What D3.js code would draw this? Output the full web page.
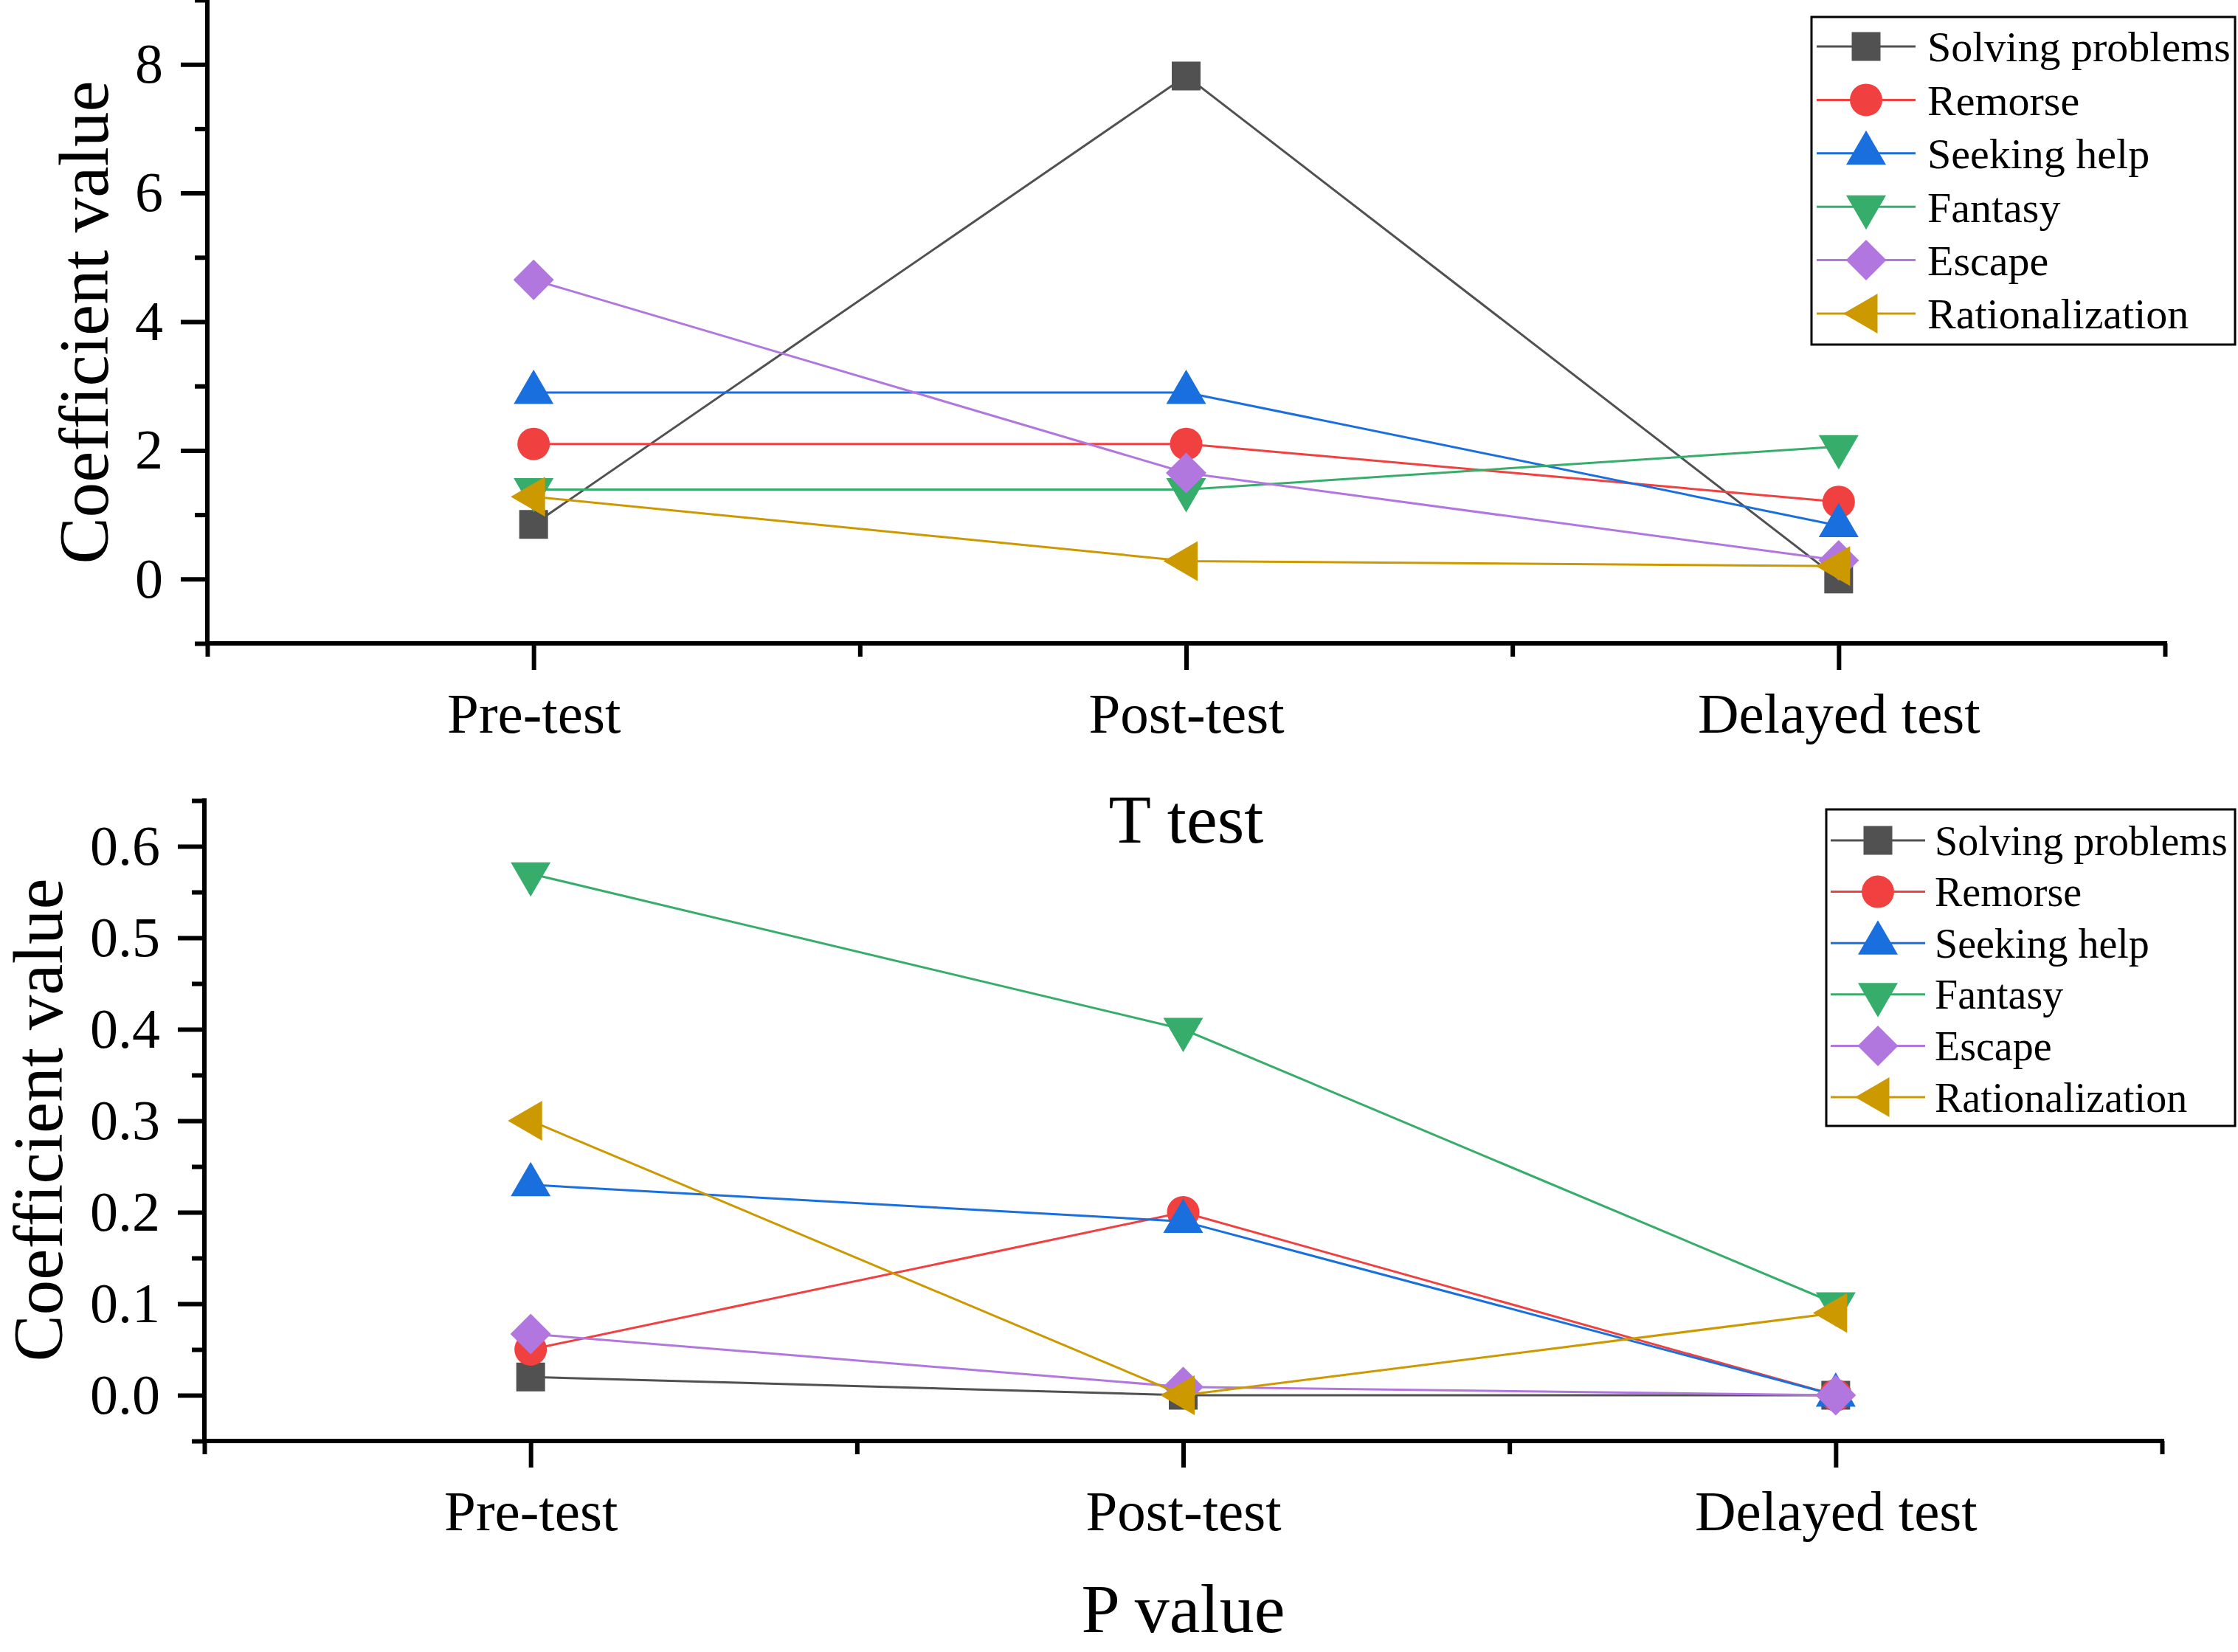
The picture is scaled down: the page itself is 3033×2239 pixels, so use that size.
<!DOCTYPE html>
<html>
<head>
<meta charset="utf-8">
<script src="https://cdn.jsdelivr.net/npm/d3@7"></script>
<style>
  body { margin: 0; background: #fff; }
  svg text { font-family: "Liberation Serif", "Times New Roman", serif; fill: #000; }
</style>
</head>
<body>
<svg id="chart" width="3033" height="2239"></svg>
<script>
// categories on the x axis
const categories = ["Pre-test", "Post-test", "Delayed test"]
const seriesNames = ["Solving problems", "Remorse", "Seeking help", "Fantasy", "Escape", "Rationalization"]

// T test coefficients
const solvingT = [0.85, 7.82, 0.0]
const remorseT = [2.1, 2.1, 1.2]
const seekingT = [2.9, 2.9, 0.83]
const fantasyT = [1.39, 1.39, 2.06]
const escapeT = [4.65, 1.65, 0.29]
const rationalT = [1.28, 0.28, 0.2]

// P values
const solvingP = [0.02, 0.0, 0.0]
const remorseP = [0.05, 0.2, 0.0]
const seekingP = [0.23, 0.19, 0.0]
const fantasyP = [0.57, 0.4, 0.1]
const escapeP = [0.067, 0.009, 0.0]
const rationalP = [0.3, 0.0, 0.09]

// tick labels
const tTicks = [0, 2, 4, 6, 8]
const tMinor = [-1, 1, 3, 5, 7, 9]
const pTicks = [0, 0.1, 0.2, 0.3, 0.4, 0.5, 0.6]
const pMinor = [-0.05, 0.05, 0.15, 0.25, 0.35, 0.45, 0.55, 0.65]

const colors = ["#515151", "#F14040", "#1A6FDF", "#37AD6B", "#B177DE", "#CC9900"]
const shapes = ["square", "circle", "up", "down", "diamond", "left"]

const svg = d3.select("#chart")

function markerPath(shape) {
  const p = d3.path()
  if (shape === "square") {
    p.rect(-19.5, -19.5, 39, 39)
  } else if (shape === "circle") {
    p.arc(0, 0, 22, 0, 2 * Math.PI)
  } else if (shape === "up") {
    p.moveTo(0, -31); p.lineTo(27, 15.5); p.lineTo(-27, 15.5); p.closePath()
  } else if (shape === "down") {
    p.moveTo(0, 31); p.lineTo(27, -15.5); p.lineTo(-27, -15.5); p.closePath()
  } else if (shape === "diamond") {
    p.moveTo(0, -27.5); p.lineTo(27.5, 0); p.lineTo(0, 27.5); p.lineTo(-27.5, 0); p.closePath()
  } else if (shape === "left") {
    p.moveTo(-31, 0); p.lineTo(15.5, -27); p.lineTo(15.5, 27); p.closePath()
  }
  return p.toString()
}

function renderPanel(opts) {
  const x = d3.scaleLinear().domain([0.5, 3.5]).range([opts.left, opts.right])
  const y = d3.scaleLinear().domain(opts.yDomain).range([opts.bottom, opts.top])
  const g = svg.append("g")

  // y axis major ticks + labels
  const yAxis = g.append("g")
    .attr("transform", `translate(${opts.left},0)`)
    .call(d3.axisLeft(y).tickValues(opts.major).tickSize(36).tickSizeOuter(0)
      .tickPadding(24).tickFormat(opts.fmt))
  yAxis.select(".domain").remove()
  yAxis.selectAll("line").attr("stroke", "#000").attr("stroke-width", 6)
  yAxis.selectAll("text").style("font-size", "76px")

  // y minor ticks
  const yMinor = g.append("g")
    .attr("transform", `translate(${opts.left},0)`)
    .call(d3.axisLeft(y).tickValues(opts.minor).tickSize(17).tickFormat(""))
  yMinor.select(".domain").remove()
  yMinor.selectAll("line").attr("stroke", "#000").attr("stroke-width", 6)

  // x axis
  const xAxis = g.append("g")
    .attr("transform", `translate(0,${opts.bottom})`)
    .call(d3.axisBottom(x).tickValues([1, 2, 3]).tickSize(36).tickSizeOuter(0)
      .tickFormat(d => categories[d - 1]))
  xAxis.select(".domain").remove()
  xAxis.selectAll("line").attr("stroke", "#000").attr("stroke-width", 6)
  xAxis.selectAll("text")
    .attr("y", 121)
    .attr("dy", 0)
    .style("font-size", "77px")

  const xMinor = g.append("g")
    .attr("transform", `translate(0,${opts.bottom})`)
    .call(d3.axisBottom(x).tickValues([0.5, 1.5, 2.5, 3.5]).tickSize(18).tickFormat(""))
  xMinor.select(".domain").remove()
  xMinor.selectAll("line").attr("stroke", "#000").attr("stroke-width", 6)

  // axis lines
  g.append("path")
    .attr("d", `M${opts.left},${opts.top} V${opts.bottom} H${opts.right}`)
    .attr("fill", "none")
    .attr("stroke", "#000")
    .attr("stroke-width", 6)
    .attr("stroke-linecap", "square")

  // y label
  g.append("text")
    .attr("transform", `translate(${opts.yLabelX},${opts.yLabelY}) rotate(-90)`)
    .attr("text-anchor", "middle")
    .style("font-size", "95px")
    .text("Coefficient value")

  // panel title
  g.append("text")
    .attr("x", x(2))
    .attr("y", opts.titleY)
    .attr("text-anchor", "middle")
    .style("font-size", "94px")
    .text(opts.title)

  const line = d3.line()
    .x((d, i) => x(i + 1))
    .y(d => y(d))

  opts.series.forEach((vals, s) => {
    const sg = g.append("g")
    sg.append("path")
      .datum(vals)
      .attr("fill", "none")
      .attr("stroke", colors[s])
      .attr("stroke-width", 3)
      .attr("d", line)
    sg.selectAll(".mk")
      .data(vals)
      .enter().append("path")
      .attr("class", "mk")
      .attr("transform", (d, i) => `translate(${x(i + 1)},${y(d)})`)
      .attr("d", markerPath(shapes[s]))
      .attr("fill", colors[s])
  })

  // legend
  const lg = opts.legend
  const leg = g.append("g")
  leg.append("rect")
    .attr("x", lg.x0).attr("y", lg.y0)
    .attr("width", lg.x1 - lg.x0).attr("height", lg.y1 - lg.y0)
    .attr("fill", "#fff")
    .attr("stroke", "#000")
    .attr("stroke-width", 3)
  seriesNames.forEach((name, s) => {
    const cy = lg.row0 + s * lg.step
    leg.append("line")
      .attr("x1", lg.lineX0).attr("x2", lg.lineX1)
      .attr("y1", cy).attr("y2", cy)
      .attr("stroke", colors[s])
      .attr("stroke-width", 3)
    leg.append("path")
      .attr("transform", `translate(${(lg.lineX0 + lg.lineX1) / 2},${cy})`)
      .attr("d", markerPath(shapes[s]))
      .attr("fill", colors[s])
    leg.append("text")
      .attr("x", lg.textX)
      .attr("y", cy)
      .attr("dy", "0.35em")
      .style("font-size", lg.font + "px")
      .text(name)
  })
}

renderPanel({
  left: 281, right: 2934, top: 0, bottom: 872,
  yDomain: [-1, 9],
  major: tTicks, minor: tMinor,
  fmt: d3.format("d"),
  yLabelX: 146, yLabelY: 437,
  title: "T test", titleY: 1142,
  series: [solvingT, remorseT, seekingT, fantasyT, escapeT, rationalT],
  legend: { x0: 2455, x1: 3029, y0: 23, y1: 467, row0: 63, step: 72.4,
    lineX0: 2462, lineX1: 2596, textX: 2612, font: 58 }
})

renderPanel({
  left: 277, right: 2930, top: 1085, bottom: 1953,
  yDomain: [-0.05, 0.65],
  major: pTicks, minor: pMinor,
  fmt: d3.format(".1f"),
  yLabelX: 84, yLabelY: 1518,
  title: "P value", titleY: 2212,
  series: [solvingP, remorseP, seekingP, fantasyP, escapeP, rationalP],
  legend: { x0: 2475, x1: 3029, y0: 1097, y1: 1526, row0: 1139, step: 69.6,
    lineX0: 2481, lineX1: 2609, textX: 2622, font: 56 }
})
</script>
</body>
</html>
